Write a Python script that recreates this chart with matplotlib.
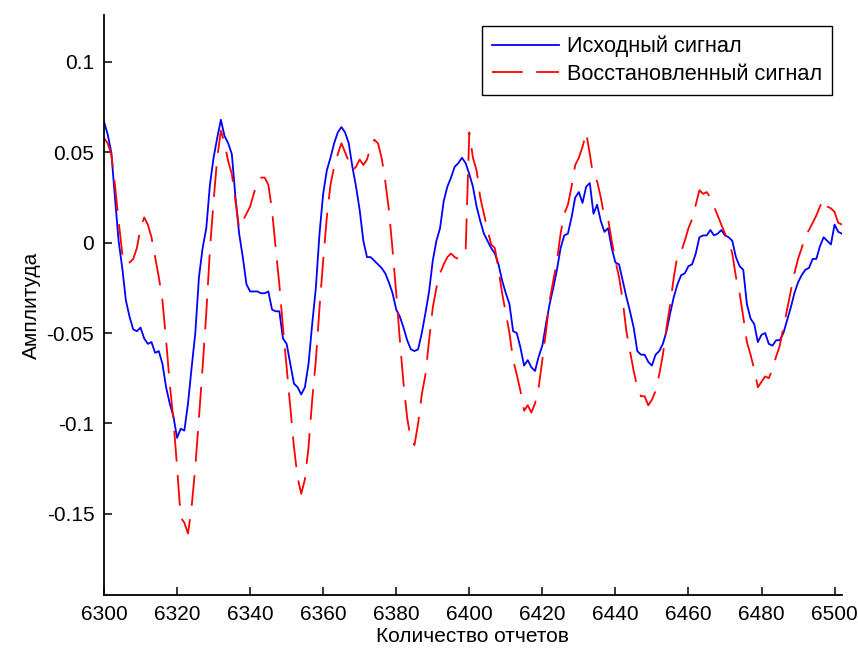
import numpy as np
import matplotlib.pyplot as plt

plt.rcParams['font.family'] = ['Liberation Sans', 'DejaVu Sans']

# отсчеты 6300..6502
n = np.arange(6300, 6503)

ishodny = [
    0.067, 0.060, 0.050, 0.025, 0.001, -0.014, -0.032, -0.041, -0.048, -0.049,
    -0.047, -0.053, -0.056, -0.055, -0.061, -0.060, -0.067, -0.080, -0.089, -0.096,
    -0.108, -0.103, -0.104, -0.089, -0.069, -0.050, -0.019, -0.003, 0.008, 0.032,
    0.047, 0.058, 0.068, 0.059, 0.055, 0.049, 0.025, 0.005, -0.008, -0.023,
    -0.027, -0.027, -0.027, -0.028, -0.028, -0.027, -0.037, -0.038, -0.038, -0.053,
    -0.056, -0.067, -0.078, -0.080, -0.084, -0.080, -0.067, -0.045, -0.025, 0.005,
    0.027, 0.040, 0.047, 0.055, 0.061, 0.064, 0.061, 0.055, 0.042, 0.031,
    0.018, 0.001, -0.008, -0.008, -0.010, -0.012, -0.014, -0.017, -0.022, -0.028,
    -0.037, -0.041, -0.047, -0.054, -0.059, -0.060, -0.059, -0.050, -0.039, -0.027,
    -0.010, 0.001, 0.008, 0.023, 0.031, 0.036, 0.042, 0.044, 0.047, 0.044,
    0.038, 0.031, 0.020, 0.012, 0.005, 0.001, -0.003, -0.006, -0.012, -0.021,
    -0.028, -0.034, -0.049, -0.050, -0.058, -0.068, -0.065, -0.069, -0.071, -0.063,
    -0.057, -0.045, -0.034, -0.025, -0.015, -0.003, 0.004, 0.005, 0.014, 0.025,
    0.028, 0.022, 0.031, 0.033, 0.016, 0.021, 0.012, 0.006, 0.008, -0.003,
    -0.011, -0.012, -0.021, -0.030, -0.038, -0.047, -0.060, -0.062, -0.062, -0.066,
    -0.068, -0.062, -0.060, -0.056, -0.049, -0.039, -0.030, -0.023, -0.018, -0.017,
    -0.013, -0.012, -0.006, 0.003, 0.004, 0.004, 0.007, 0.004, 0.005, 0.007,
    0.004, 0.003, 0.001, -0.008, -0.013, -0.015, -0.034, -0.042, -0.045, -0.055,
    -0.051, -0.050, -0.056, -0.057, -0.054, -0.054, -0.050, -0.043, -0.036, -0.028,
    -0.022, -0.018, -0.015, -0.014, -0.009, -0.009, -0.002, 0.003, 0.001, -0.001,
    0.010, 0.006, 0.005,
]

vosst = [
    0.058, 0.055, 0.049, 0.032, 0.012, -0.006, -0.012, -0.011, -0.009, -0.003,
    0.008, 0.014, 0.010, 0.003, -0.008, -0.019, -0.032, -0.054, -0.078, -0.098,
    -0.124, -0.152, -0.155, -0.161, -0.146, -0.124, -0.097, -0.069, -0.039, -0.004,
    0.023, 0.047, 0.062, 0.055, 0.045, 0.038, 0.023, 0.008, 0.012, 0.016,
    0.020, 0.027, 0.034, 0.036, 0.036, 0.032, 0.018, -0.003, -0.023, -0.047,
    -0.069, -0.091, -0.113, -0.130, -0.139, -0.131, -0.113, -0.087, -0.065, -0.036,
    -0.010, 0.014, 0.032, 0.042, 0.049, 0.055, 0.050, 0.045, 0.040, 0.042,
    0.046, 0.043, 0.046, 0.053, 0.057, 0.055, 0.047, 0.034, 0.018, -0.004,
    -0.028, -0.054, -0.078, -0.097, -0.109, -0.112, -0.100, -0.084, -0.073, -0.054,
    -0.036, -0.025, -0.017, -0.012, -0.008, -0.006, -0.008, -0.009, -0.008, -0.005,
    0.061, 0.047, 0.040, 0.025, 0.016, 0.007, -0.001, -0.003, -0.015, -0.028,
    -0.039, -0.050, -0.065, -0.073, -0.082, -0.093, -0.090, -0.094, -0.089, -0.080,
    -0.065, -0.049, -0.032, -0.021, -0.010, 0.005, 0.016, 0.021, 0.031, 0.043,
    0.047, 0.053, 0.061, 0.049, 0.036, 0.034, 0.025, 0.014, 0.013, 0.001,
    -0.010, -0.019, -0.032, -0.049, -0.060, -0.071, -0.080, -0.085, -0.085, -0.090,
    -0.087, -0.082, -0.073, -0.062, -0.047, -0.034, -0.019, -0.007, -0.005, 0.001,
    0.008, 0.013, 0.021, 0.029, 0.027, 0.028, 0.025, 0.020, 0.015, 0.010,
    0.005, 0.001, -0.006, -0.019, -0.028, -0.041, -0.055, -0.062, -0.070, -0.080,
    -0.077, -0.074, -0.075, -0.070, -0.063, -0.057, -0.047, -0.037, -0.027, -0.017,
    -0.009, -0.003, 0.004, 0.007, 0.011, 0.015, 0.020, 0.024, 0.020, 0.019,
    0.017, 0.011, 0.010,
]

xticks = np.arange(6300, 6501, 20)
yticks = [-0.15, -0.1, -0.05, 0, 0.05, 0.1]
yticklabels = ['-0.15', '-0.1', '-0.05', '0', '0.05', '0.1']

fs = 15
fig = plt.figure(figsize=(8.58, 6.52), dpi=100)
ax = fig.add_axes([0.1212, 0.0874, 0.8600, 0.8896])

ax.plot(n, ishodny, color='#0000ff', lw=1.3, label='Исходный сигнал')
ax.plot(n, vosst, color='#ff0000', lw=1.3, dashes=(17, 7.5), label='Восстановленный сигнал')

ax.set_xlim(6300, 6502)
ax.set_ylim(-0.195, 0.126)
ax.set_xticks(xticks)
ax.set_yticks(yticks)
ax.set_yticklabels(yticklabels)

for s in ['top', 'right']:
    ax.spines[s].set_visible(False)
for s in ['left', 'bottom']:
    ax.spines[s].set_linewidth(1.3)
ax.tick_params(direction='in', length=6, width=1.1, labelsize=fs, pad=7)

ax.set_xlabel('Количество отчетов', fontsize=fs, labelpad=2)
ax.set_ylabel('Амплитуда', fontsize=fs, labelpad=4)

leg = ax.legend(loc='upper right', bbox_to_anchor=(0.9697, 0.960),
                bbox_transform=fig.transFigure, borderaxespad=0,
                fontsize=15.7, fancybox=False, framealpha=1, edgecolor='black',
                handlelength=3.1, handletextpad=0.35, borderpad=0.45,
                labelspacing=0.3)
leg.get_frame().set_linewidth(1.0)

fig.savefig('out.png', dpi=100)
